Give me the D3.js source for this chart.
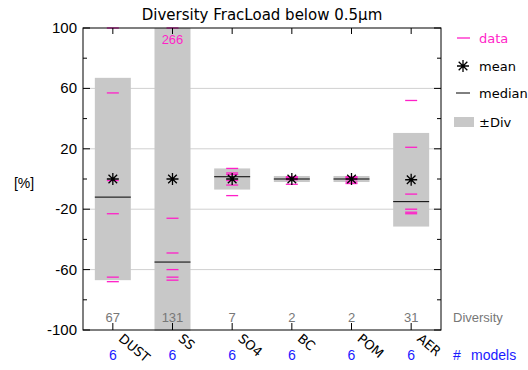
<!DOCTYPE html>
<html>
<head>
<meta charset="utf-8">
<script src="https://cdn.jsdelivr.net/npm/d3@7"></script>
<style>
  body { margin: 0; background: #fff; }
  text { font-family: "DejaVu Sans", sans-serif; }
</style>
</head>
<body>
<div id="wrapper"></div>
<script>
// categories + values
const species = ["DUST", "SS", "SO4", "BC", "POM", "AER"]
const nModels = [6, 6, 6, 6, 6, 6]
const diversity = [67, 131, 7, 2, 2, 31]
const means = [0, 0, 0, 0, 0, -0.5]
const medians = [-12, -55, 1.5, 0, 0, -15]
const modelData = [
    [100, 57, -1, -23, -65, -68],
    [266, -26, -49, -60, -65, -67],
    [7, 4, 3, -1, -4, -11],
    [1.5, 1, 0.5, 0, -0.5, -3.5],
    [1.5, 1, 0.5, -0.5, -2, -3],
    [52, 21, -10, -20, -22, -23]
]
const yTicks = [100, 60, 20, -20, -60, -100]
const yMinor = [80, 40, 0, -40, -80]
const gridVals = [60, 20, -20, -60]

const pink = "#ff1fc8", blue = "#1a1aff", gray = "#777", barGray = "#c8c8c8"

const W = 528, H = 370
const margin = {top: 28, right: 87, bottom: 40, left: 83}
const width = W - margin.left - margin.right,
      height = H - margin.top - margin.bottom

const svg = d3.select("#wrapper").append("svg")
    .attr("width", W).attr("height", H)

const g = svg.append("g").attr("transform", `translate(${margin.left},${margin.top})`)

const x = d3.scaleLinear().domain([0.5, species.length + 0.5]).range([0, width])
const y = d3.scaleLinear().domain([-100, 100]).range([height, 0])
const clampY = v => y(Math.max(-100, Math.min(100, v)))
const barHalf = 18, dashHalf = 6

g.append("clipPath").attr("id", "clip")
  .append("rect").attr("x", 0).attr("y", 0).attr("width", width).attr("height", height + 1)

// grid
g.selectAll(".grid").data(gridVals).enter().append("line")
    .attr("x1", 0).attr("x2", width)
    .attr("y1", d => y(d)).attr("y2", d => y(d))
    .attr("stroke", "#d0d0d0").attr("stroke-width", 1)

const plot = g.append("g").attr("clip-path", "url(#clip)")

// ±Div boxes
plot.selectAll(".div").data(species).enter().append("rect")
    .attr("x", (d, i) => x(i + 1) - barHalf)
    .attr("width", barHalf * 2)
    .attr("y", (d, i) => y(means[i] + diversity[i]))
    .attr("height", (d, i) => y(means[i] - diversity[i]) - y(means[i] + diversity[i]))
    .attr("fill", barGray)

// median
plot.selectAll(".med").data(species).enter().append("line")
    .attr("x1", (d, i) => x(i + 1) - barHalf).attr("x2", (d, i) => x(i + 1) + barHalf)
    .attr("y1", (d, i) => y(medians[i])).attr("y2", (d, i) => y(medians[i]))
    .attr("stroke", "#000").attr("stroke-width", 1)

// data dashes
const pts = []
modelData.forEach((arr, i) => arr.forEach(v => pts.push({i: i, v: v})))
g.selectAll(".pt").data(pts).enter().append("line")
    .attr("x1", d => x(d.i + 1) - dashHalf).attr("x2", d => x(d.i + 1) + dashHalf)
    .attr("y1", d => clampY(d.v)).attr("y2", d => clampY(d.v))
    .attr("stroke", pink).attr("stroke-width", 1.3)

// off-scale values written as text
g.selectAll(".out").data(pts.filter(d => d.v > 100)).enter().append("text")
    .attr("x", d => x(d.i + 1)).attr("y", 16)
    .attr("text-anchor", "middle").attr("fill", pink)
    .style("font-size", "13px").style("font-family", "Liberation Sans, Arial")
    .text(d => d.v)

// mean asterisk
function star(sel, cx, cy, r) {
    const a = r * 0.72
    const p = `M${cx - r},${cy}L${cx + r},${cy}M${cx},${cy - r}L${cx},${cy + r}` +
              `M${cx - a},${cy - a}L${cx + a},${cy + a}M${cx - a},${cy + a}L${cx + a},${cy - a}`
    sel.append("path").attr("d", p).attr("stroke", "#000").attr("stroke-width", 1.3).attr("fill", "none")
}
species.forEach((s, i) => star(g, x(i + 1), y(means[i]), 6))

// frame
g.append("rect").attr("width", width).attr("height", height)
    .attr("fill", "none").attr("stroke", "#000").attr("stroke-width", 1)

// ticks left/right
const tk = g.append("g").attr("stroke", "#000")
yTicks.forEach(v => {
    tk.append("line").attr("x1", 0).attr("x2", 7).attr("y1", y(v)).attr("y2", y(v))
    tk.append("line").attr("x1", width).attr("x2", width - 7).attr("y1", y(v)).attr("y2", y(v))
})
yMinor.forEach(v => {
    tk.append("line").attr("x1", 0).attr("x2", 4).attr("y1", y(v)).attr("y2", y(v))
    tk.append("line").attr("x1", width).attr("x2", width - 4).attr("y1", y(v)).attr("y2", y(v))
})
species.forEach((s, i) => {
    tk.append("line").attr("x1", x(i + 1)).attr("x2", x(i + 1)).attr("y1", 0).attr("y2", 6)
    tk.append("line").attr("x1", x(i + 1)).attr("x2", x(i + 1)).attr("y1", height).attr("y2", height - 7)
})

// y labels
g.selectAll(".yl").data(yTicks).enter().append("text")
    .attr("x", -6).attr("y", d => y(d) + 5)
    .attr("text-anchor", "end")
    .style("font-family", "Liberation Sans, Arial").style("font-size", "15px")
    .text(d => d)

svg.append("text").attr("x", 24).attr("y", 188).attr("text-anchor", "middle")
    .style("font-family", "Liberation Sans, Arial").style("font-size", "14px")
    .text("[%]")

// title
svg.append("text").attr("x", margin.left + width / 2).attr("y", 20)
    .attr("text-anchor", "middle").style("font-size", "15px")
    .text("Diversity FracLoad below 0.5\u03bcm")

// diversity numbers
g.selectAll(".dv").data(diversity).enter().append("text")
    .attr("x", (d, i) => x(i + 1)).attr("y", height - 8)
    .attr("text-anchor", "middle").attr("fill", gray)
    .style("font-family", "Liberation Sans, Arial").style("font-size", "13px")
    .text(d => d)
g.append("text").attr("x", width + 12).attr("y", height - 8)
    .attr("fill", gray).style("font-family", "Liberation Sans, Arial").style("font-size", "13px")
    .text("Diversity")

// species labels rotated
g.selectAll(".sp").data(species).enter().append("text")
    .attr("transform", (d, i) => `translate(${x(i + 1) + 5},${height + 10}) rotate(40)`)
    .attr("text-anchor", "start").style("font-size", "13px")
    .text(d => d)

// number of models
g.selectAll(".nm").data(nModels).enter().append("text")
    .attr("x", (d, i) => x(i + 1)).attr("y", height + 30)
    .attr("text-anchor", "middle").attr("fill", blue)
    .style("font-family", "Liberation Sans, Arial").style("font-size", "14px")
    .text(d => d)
g.append("text").attr("x", width + 12).attr("y", height + 30).attr("fill", blue)
    .style("font-family", "Liberation Sans, Arial").style("font-size", "14px").text("#")
g.append("text").attr("x", width + 30).attr("y", height + 30).attr("fill", blue)
    .style("font-family", "Liberation Sans, Arial").style("font-size", "14px").text("models")

// legend
const lg = svg.append("g")
const lx = 457, tx = 479
lg.append("line").attr("x1", lx).attr("x2", lx + 13).attr("y1", 38).attr("y2", 38).attr("stroke", pink).attr("stroke-width", 1.3)
lg.append("text").attr("x", tx).attr("y", 43).attr("fill", pink).style("font-size", "13px").text("data")
star(lg, lx + 6, 66, 6)
lg.append("text").attr("x", tx).attr("y", 71).style("font-size", "13px").text("mean")
lg.append("line").attr("x1", lx - 1).attr("x2", lx + 13).attr("y1", 93).attr("y2", 93).attr("stroke", "#000")
lg.append("text").attr("x", tx).attr("y", 98).style("font-size", "13px").text("median")
lg.append("rect").attr("x", 454).attr("y", 117).attr("width", 20).attr("height", 10).attr("fill", barGray)
lg.append("text").attr("x", tx).attr("y", 127).style("font-size", "13px").text("\u00b1Div")
</script>
</body>
</html>
